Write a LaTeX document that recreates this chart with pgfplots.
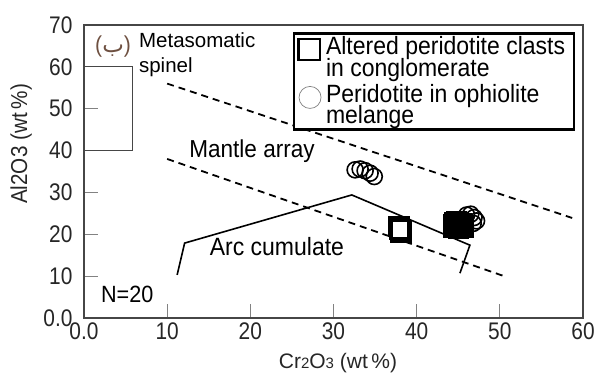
\documentclass[border=0pt]{standalone}
\usepackage{pgfplots}
\pgfplotsset{compat=1.18}
\usepackage{fontspec}
\setmainfont{Liberation Sans}[FakeStretch=0.92]
\newfontfamily\plainfont{Liberation Sans}
\newfontfamily\tickfont{Liberation Sans}[FakeStretch=0.87]
\newfontfamily\condfont{Liberation Sans}[FakeStretch=0.9]
\newfontfamily\arabicfont[Script=Arabic]{DejaVu Sans}
\TeXXeTstate=1
\definecolor{brn}{RGB}{110,80,65}
\definecolor{axgray}{RGB}{70,70,70}
\definecolor{tkgray}{RGB}{130,130,130}
\newcommand{\fs}[1]{\fontsize{#1}{#1}\selectfont}
\newcommand{\lt}[2]{\rule[-5pt]{0pt}{\dimexpr#1+5pt\relax}\makebox[244pt][l]{\smash{#2}}}

\pgfplotstableread{
x y
0 60
5.8 60
5.8 40
0 40
}\spinelbox
\pgfplotstableread{
x y
11.2 10.3
12.1 17.9
32.2 29.4
46.4 17.4
45.2 10.7
}\arccum
\pgfplotstableread{
x y
10.0 56.0
58.7 23.9
}\upperdash
\pgfplotstableread{
x y
10.0 38.0
50.8 9.8
}\lowerdash
\pgfplotstableread{
x y
37.9 21.9
38.1 20.5
38.0 21.2
}\sqopen
\pgfplotstableread{
x y
44.4 21.6
44.6 22.8
45.0 21.4
45.3 22.4
44.8 23.0
45.6 21.8
44.5 22.2
}\sqfill
\pgfplotstableread{
x y
32.6 35.4
33.2 35.6
33.8 35.2
34.4 34.6
34.9 33.8
46.0 24.6
46.5 24.8
46.9 24.0
47.2 23.2
46.8 22.6
}\circs

\begin{document}
\begin{tikzpicture}
\path[use as bounding box] (-84pt,-58pt) rectangle (512pt,318pt);
\begin{axis}[
  scale only axis, width=499pt, height=293pt,
  xmin=0, xmax=60, ymin=0, ymax=70,
  xtick={0,10,20,30,40,50,60}, xticklabels={0.0,10,20,30,40,50,60},
  ytick={0,10,20,30,40,50,60,70}, yticklabels={0.0,10,20,30,40,50,60,70},
  tick pos=left, tick align=inside, major tick length=14pt,
  tick style={color=tkgray, line width=0.9pt},
  axis line style={color=axgray, line width=1.4pt},
  /pgf/number format/assume math mode=true,
  ticklabel style={font=\tickfont\fs{24}, text=black!85},
  yticklabel style={xshift=-8pt},
  xticklabel style={yshift=-1pt},
  xlabel={\plainfont Cr{\fs{15}2}O{\fs{15}3} (wt\,\%)},
  ylabel={\condfont\fs{23}Al2O3 (wt\,\%)},
  xlabel style={font=\fs{21}, text=black!85, at={(axis description cs:0.509,-0.154)}, anchor=center},
  ylabel style={text=black!85, at={(axis description cs:-0.126,0.594)}, anchor=center},
  clip=false,
  legend style={at={(axis cs:25.1,68.3)}, anchor=north west, draw=black,
    line width=2.6pt, inner xsep=3pt, inner ysep=3pt,
    nodes={inner sep=1pt}, column sep=2pt, row sep=5pt,
    font=\fs{25}, cells={anchor=base west}},
]
\addplot[color=axgray, line width=1.1pt, forget plot] table {\spinelbox};
\addplot[black, line width=1.8pt, dash pattern=on 7pt off 5pt, forget plot] table {\upperdash};
\addplot[black, line width=1.8pt, dash pattern=on 7pt off 5pt, forget plot] table {\lowerdash};
\addplot[black, line width=1.6pt, forget plot] table {\arccum};
\addplot[only marks, mark=square*, mark size=9pt,
  mark options={draw=black, fill=black, line width=3.5pt}, forget plot] table {\sqfill};
\addplot[only marks, mark=square*, mark size=9pt,
  mark options={draw=black, fill=white, line width=3.5pt},
  legend image code/.code={\path[draw=none, fill=none] (0pt,0pt) -- (26pt,0pt);
    \draw[overlay, black, fill=none, line width=2.5pt] (1.25pt,-5.5pt) rectangle (22.75pt,15.5pt);}]
  table {\sqopen};
\addlegendentry{\lt{17pt}{Altered peridotite clasts}}
\addlegendimage{draw=none, mark=none, legend image code/.code={\path[draw=none, fill=none] (0pt,0pt) -- (26pt,0pt);}}
\addlegendentry{\lt{14pt}{in conglomerate}}
\addplot[only marks, mark=o, mark size=8pt,
  mark options={draw=black, line width=1.6pt},
  legend image code/.code={\path[draw=none, fill=none] (0pt,0pt) -- (26pt,0pt);
    \draw[overlay, gray, fill=none, line width=0.7pt] (13pt,5pt) circle (11pt);}]
  table {\circs};
\addlegendentry{\lt{17pt}{Peridotite in ophiolite}}
\addlegendimage{draw=none, mark=none, legend image code/.code={\path[draw=none, fill=none] (0pt,0pt) -- (26pt,0pt);}}
\addlegendentry{\lt{13pt}{melange}}

\node[anchor=base, font=\fs{24.5}] at (axis cs:20.2,38.4) {Mantle array};
\node[anchor=base, font=\fs{25}] at (axis cs:23.2,15.0) {Arc cumulate};
\node[anchor=base, font=\fs{23.5}] at (axis cs:5.2,3.8) {N=20};
\node[anchor=base west, font=\plainfont\fs{20.5}, inner sep=0pt] at (axis cs:6.6,64.7) {Metasomatic};
\node[anchor=base west, font=\plainfont\fs{20.5}, inner sep=0pt] at (axis cs:6.6,58.7) {spinel};
\node[anchor=center, font=\fs{23}, text=brn, inner sep=0pt] at (axis cs:3.5,64.9) {({\arabicfont\beginR ب\endR})};
\end{axis}
\end{tikzpicture}
\end{document}
